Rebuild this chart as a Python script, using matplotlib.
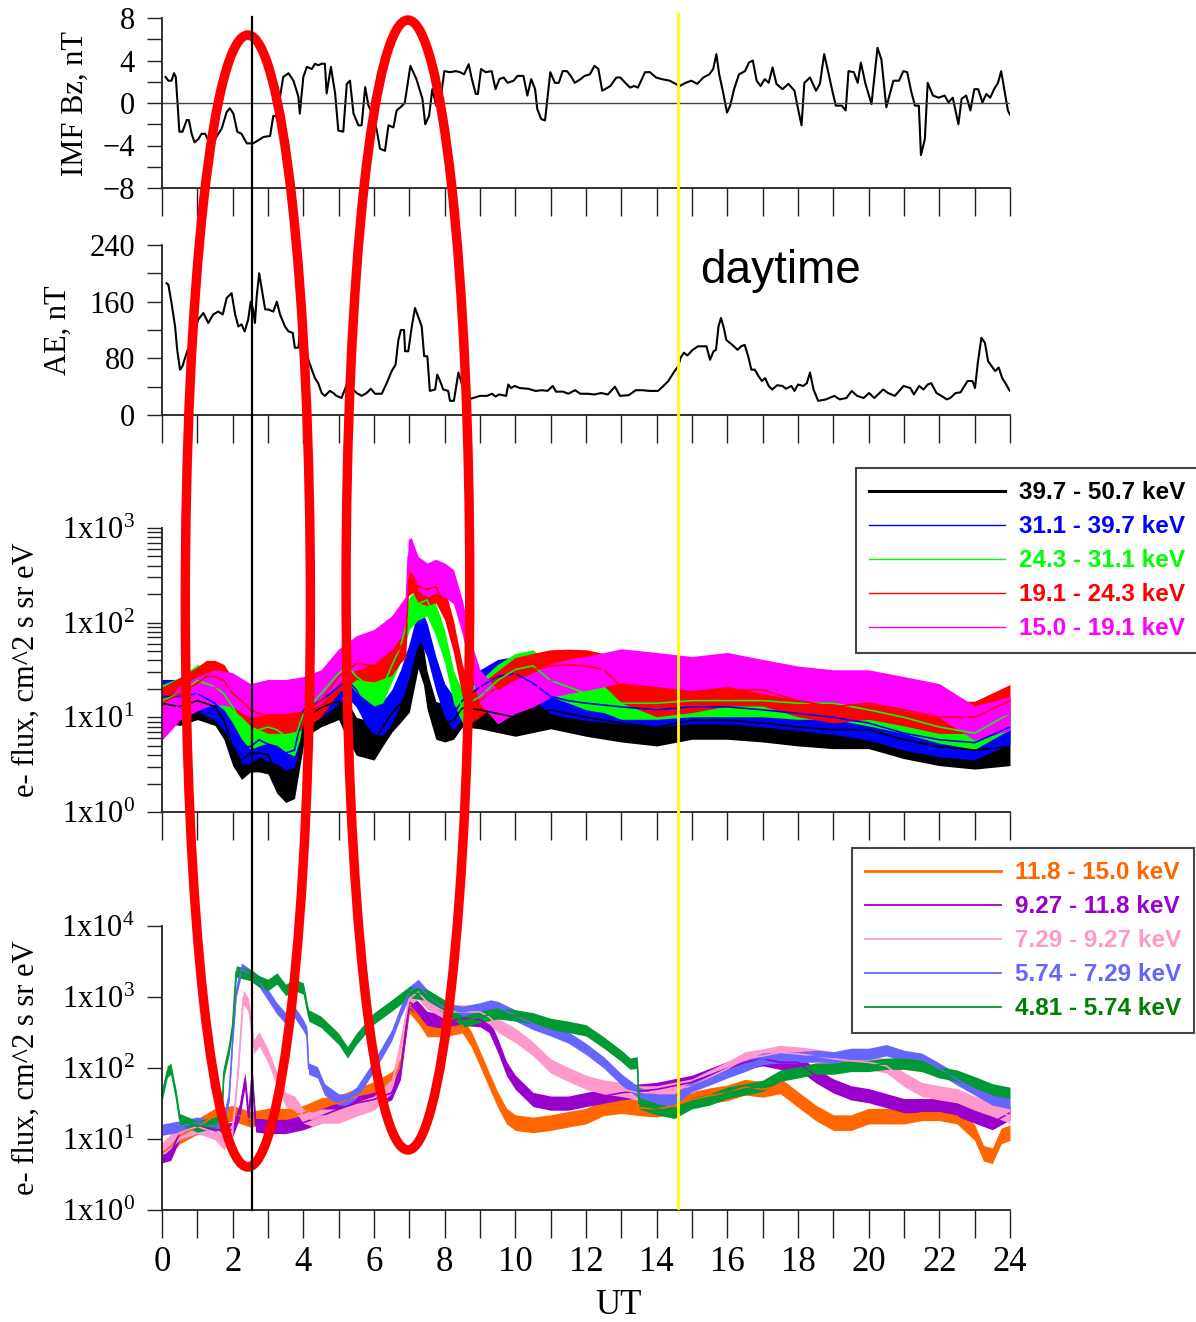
import numpy as np
import matplotlib
matplotlib.use("Agg")
import matplotlib.pyplot as plt
from matplotlib.patches import Ellipse
from matplotlib.lines import Line2D
from matplotlib.ticker import LogLocator, NullFormatter
import matplotlib.transforms as mtransforms

# ---------------- data ----------------
hours = list(range(0, 25))
hour_labels = [str(h) if h % 2 == 0 else "" for h in hours]

bz_t = [0.1, 0.18, 0.27, 0.34, 0.39, 0.44, 0.49, 0.58, 0.7, 0.76, 0.84, 0.92, 1.03, 1.12, 1.22, 1.31, 1.5, 1.69,
        1.83, 1.92, 2.02, 2.13, 2.25, 2.4, 2.58, 2.73, 2.87, 3.06, 3.15, 3.25, 3.34, 3.43, 3.58, 3.72, 3.86, 3.9,
        4.0, 4.1, 4.24, 4.33, 4.42, 4.52, 4.61, 4.66, 4.78, 4.9, 4.99, 5.13, 5.23, 5.32, 5.42, 5.56, 5.65, 5.75,
        5.84, 5.98, 6.08, 6.17, 6.31, 6.41, 6.55, 6.64,
        6.75, 6.87, 7.03, 7.2, 7.37, 7.45, 7.56, 7.65, 7.76, 7.87, 7.99, 8.15, 8.32, 8.43, 8.55, 8.68, 8.77, 8.88,
        8.94, 9.03, 9.16, 9.33, 9.44, 9.55, 9.67, 9.78, 9.95, 10.06, 10.23, 10.34, 10.45, 10.56, 10.62, 10.73,
        10.84, 10.99, 11.12, 11.23, 11.34, 11.46, 11.57, 11.68, 11.85, 11.96, 12.11, 12.24, 12.35, 12.46, 12.69,
        12.86, 12.97, 13.14, 13.25, 13.36, 13.47, 13.67, 13.81, 13.98, 14.14, 14.37, 14.54, 14.65, 14.82, 14.98,
        15.15, 15.32, 15.49, 15.6, 15.69, 15.77, 15.88, 15.99, 16.08, 16.19, 16.33, 16.5, 16.61, 16.72, 16.83,
        16.94, 17.06, 17.17, 17.28, 17.39, 17.56, 17.73, 17.9, 18.01, 18.1, 18.18, 18.34, 18.51, 18.62, 18.74,
        18.85, 18.96, 19.07, 19.24, 19.35, 19.43, 19.58, 19.69, 19.78, 19.91, 20.08, 20.25, 20.36, 20.5, 20.7,
        20.86, 20.98, 21.09, 21.2, 21.31, 21.42, 21.48, 21.59, 21.67, 21.82, 21.98, 22.15, 22.26, 22.38, 22.54,
        22.63, 22.76, 22.88, 22.99, 23.1, 23.22, 23.33, 23.44, 23.55, 23.66, 23.75, 23.86, 23.94, 24.0]
bz_v = [2.45, 2.1, 2.1, 2.8, 2.45, 0, -2.7, -2.7, -1.6, -1.6, -2.9, -3.7, -3.4, -2.9, -2.9, -3.5, -3.4, -2.4,
        -0.85, -0.5, -1.0, -2.7, -2.9, -3.8, -3.8, -3.5, -3.2, -3.1, -1.2, -1.3, 0.6, 2.45, 2.8, 2.1, 0.6, -1.0,
        2.45, 3.4, 3.2, 3.7, 3.55, 3.7, 3.7, 0.9, 3.4, 0.9, -2.6, -2.7, 1.8, 2.1, -1.0, -2.1, -2.1, 1.5,
        -0.2, -1.3, -2.6, -4.3, -4.5, -2.1, -2.3, -0.7,
        -0.4, 0, 3.5, 2.25, 0.4, -2.0, -1.2, 1.3, -0.25, 0, 3.0, 2.9, 3.0, 2.9, 2.7, 3.65, 2.25, 0.85,
        0.85, 3.2, 2.9, 3.0, 1.3, 2.25, 2.4, 1.9, 2.1, 2.55, 2.55, 0.7, 2.25, 1.3, -0.55, -1.5,
        -1.65, 2.9, 1.9, 1.9, 3.0, 3.0, 2.55, 1.9, 2.25, 2.55, 2.7, 3.5, 3.2, 1.15, 1.6,
        2.4, 2.4, 1.8, 1.45, 1.6, 1.45, 2.9, 2.9, 2.4, 2.25, 2.1, 1.8, 1.6, 1.9, 2.1,
        1.8, 2.4, 2.7, 3.2, 4.6, 2.7, 1.0, -0.9, -0.25, 1.3, 2.7, 3.0, 3.8, 4.0, 2.1,
        1.6, 2.25, 1.9, 3.35, 1.8, 1.3, 1.8, 1.15, -0.7, -2.1, 1.9, 2.4, 1.15, 1.8, 4.6,
        3.0, 1.3, -0.25, -0.25, -0.7, 3.0, 2.9, 1.9, 3.8, 1.8, -0.1, 5.2, 4.1, -0.4, 2.1,
        2.1, 3.0, 2.9, 1.15, -0.25, -0.25, -4.9, -3.4, 1.9, 0.7, 0.5, 0.7, 0.05, 0.5, -2.0,
        0.4, 0.7, -0.7, 1.3, 1.3, 0.05, 0.85, 0.5, 1.3, 1.9, 3.0, 0.85, -0.7, -1.1]

ae_t = [0.13, 0.18, 0.27, 0.37, 0.43, 0.51, 0.58, 0.7, 0.84, 0.93, 1.03, 1.17, 1.31, 1.45, 1.59, 1.72, 1.83, 1.97,
        2.07, 2.16, 2.25, 2.34, 2.44, 2.51, 2.58, 2.63, 2.68, 2.75, 2.82, 2.92, 3.01, 3.15, 3.25, 3.34, 3.48, 3.58,
        3.7, 3.76, 3.86, 3.91, 4.0, 4.14, 4.24, 4.33, 4.42, 4.52, 4.61, 4.75, 4.85, 4.94, 5.08, 5.23, 5.37, 5.51,
        5.65, 5.79, 5.91, 6.03, 6.22, 6.36, 6.5, 6.61, 6.69, 6.76, 6.85, 6.88, 6.97, 7.07, 7.16, 7.25, 7.35, 7.42,
        7.51, 7.58, 7.73, 7.79, 7.87, 7.96, 8.1, 8.15, 8.26, 8.39, 8.48, 8.58, 8.67, 8.81, 9.0,
        9.2, 9.34, 9.44, 9.54, 9.74, 9.8, 9.88, 9.98, 10.13, 10.37, 10.57, 10.76, 10.91, 11.06, 11.15, 11.35, 11.5,
        11.69, 11.84, 12.04, 12.23, 12.43, 12.62, 12.82, 12.96, 13.21, 13.41, 13.6, 13.8, 14.04, 14.19, 14.33,
        14.48, 14.61, 14.68, 14.77, 14.87, 15.02, 15.17, 15.41, 15.51, 15.61, 15.68, 15.75, 15.82, 15.9, 15.97,
        16.14, 16.29, 16.39, 16.49, 16.59, 16.68, 16.78, 16.88, 16.98, 17.07, 17.17, 17.27, 17.41, 17.56, 17.66,
        17.81, 17.9, 18.0, 18.15, 18.25, 18.34, 18.44, 18.57, 18.79, 19.03, 19.18, 19.37, 19.52, 19.67, 19.86,
        20.01, 20.16, 20.41, 20.55, 20.74, 20.99, 21.18, 21.28, 21.43, 21.55, 21.67, 21.77, 21.92, 22.06, 22.21,
        22.31, 22.46, 22.6, 22.8, 22.94, 23.01, 23.09, 23.19, 23.29, 23.38, 23.48, 23.58, 23.68, 23.78, 23.87,
        23.97, 24.0]
ae_v = [186, 184, 158, 125, 92, 64, 69, 88, 106, 120, 135, 144, 130, 142, 146, 142, 165, 172,
        142, 125, 128, 118, 135, 160, 149, 130, 167, 200, 179, 149, 149, 146, 160, 142, 125, 118,
        116, 95, 95, 120, 106, 78, 64, 52, 45, 31, 27, 34, 31, 27, 24, 43, 38, 31,
        27, 31, 37, 30, 30, 45, 62, 71, 106, 120, 120, 90, 90, 125, 151, 139, 125, 83,
        83, 34, 36, 57, 48, 36, 34, 20, 20, 60, 45, 36, 22, 24, 27,
        27, 30, 26, 29, 27, 43, 38, 41, 38, 37, 34, 35, 34, 41, 33, 33, 30,
        35, 30, 30, 29, 31, 29, 40, 27, 28, 35, 35, 34, 34, 41, 48,
        60, 69, 81, 88, 84, 92, 97, 97, 78, 90, 92, 125, 137, 123, 106,
        99, 92, 97, 99, 83, 64, 64, 55, 48, 52, 41, 36, 42, 41, 37,
        41, 34, 43, 41, 45, 60, 36, 20, 22, 27, 22, 24, 34, 27, 24,
        31, 24, 36, 31, 27, 41, 38, 29, 41, 36, 43, 45, 31, 27, 22,
        24, 31, 32, 48, 48, 38, 74, 109, 102, 76, 69, 62, 67, 52, 45,
        36, 34]

# ---- high-energy channels (panel 3) ----
hi_labels = ["39.7 - 50.7 keV", "31.1 - 39.7 keV", "24.3 - 31.1 keV", "19.1 - 24.3 keV", "15.0 - 19.1 keV"]
hi_colors = ["#000000", "#0000FF", "#00FF00", "#FF0000", "#FF00FF"]

e40_t = [0, 0.5, 1, 1.5, 1.75, 2, 2.25, 2.5, 2.75, 3, 3.25, 3.5, 3.75, 4, 4.25, 4.5, 5, 5.25, 5.5, 6, 6.25, 6.5,
         6.75, 7, 7.25, 7.4, 7.5, 7.75, 8, 8.25, 8.5, 9, 10, 11, 12, 13, 14, 15, 16, 17, 18, 19, 20, 21, 22, 23, 24]
e40_f = [14, 13, 15, 13, 9.3, 4.9, 3.5, 4.2, 4.2, 4.0, 2.5, 2.0, 2.2, 7.9, 11, 12.6, 15, 9.3, 6.3, 5.6, 7.9, 11,
         14, 18, 52, 35, 19.5, 9.3, 8.7, 9.3, 12.6, 12, 10, 12, 10, 8.7, 7.9, 9.3, 9.3, 8.7, 7.9, 7.4, 7.4, 5.8,
         4.9, 4.5, 4.9]

e31_t = [0, 0.5, 1, 1.5, 1.75, 2, 2.25, 2.5, 2.75, 3, 3.25, 3.5, 3.75, 4, 4.5, 5, 5.25, 5.5, 5.75, 6, 6.25, 6.5,
         6.75, 7, 7.2, 7.3, 7.5, 7.75, 8, 8.25, 8.5, 9, 9.5, 10, 10.5, 11, 11.5, 12, 13, 14, 15, 16, 17, 18, 19,
         20, 21, 22, 23, 24]
e31_f = [16.6, 16.6, 17.8, 14.1, 11, 7.9, 4.9, 4.9, 5.8, 5.2, 4.9, 4.2, 4.5, 12, 15, 21, 24.5, 19.5, 12.9, 10,
         9.8, 12.9, 21, 40, 78, 98, 66, 29, 15, 11, 15, 21, 27, 29, 23, 16.6, 15, 14.1, 12.9, 12, 12.9, 12.9, 12,
         11, 10, 8.7, 6.8, 5.8, 5.4, 7.9]

e24_t = [0, 0.5, 1, 1.5, 1.75, 2, 2.25, 2.5, 2.75, 3, 3.25, 3.5, 3.75, 4, 4.5, 5, 5.25, 5.5, 5.75, 6, 6.25, 6.5,
         6.75, 7, 7.25, 7.5, 7.75, 8, 8.25, 8.5, 9, 9.5, 10, 10.5, 11, 11.5, 12, 12.5, 13, 14, 15, 16, 17, 18, 19,
         20, 21, 22, 23, 24]
e24_f = [15, 17.8, 24.5, 21, 17.8, 12.9, 8.7, 6.8, 7.4, 7.9, 7.4, 6.3, 5.8, 11, 17.8, 29, 35, 27, 23, 19.5, 21,
         35, 56, 126, 158, 174, 107, 56, 21, 12.9, 16.6, 24.5, 32, 35, 24.5, 21, 17.8, 16.6, 14.1, 14.1, 15, 15,
         15, 14.1, 14.1, 12, 10, 7.9, 6.8, 11]

e19_t = [0, 0.5, 1, 1.25, 1.5, 1.75, 2, 2.25, 2.5, 2.75, 3, 3.5, 4, 4.5, 5, 5.5, 6, 6.5, 6.75, 6.9, 6.97, 7.1,
         7.25, 7.5, 7.75, 8, 8.25, 8.5, 8.75, 9, 9.5, 10, 10.5, 11, 11.5, 12, 12.5, 13, 13.5, 14, 15, 16, 17, 18,
         19, 20, 21, 22, 23, 24]
e19_f = [14.1, 17.8, 23, 27, 27, 24.5, 17.8, 15, 12, 11, 10, 10, 11, 15, 27, 37, 35, 41, 56, 63, 282, 309,
         240, 224, 240, 158, 71, 24.5, 12.9, 15, 21, 29, 32, 35, 35.5, 35, 32, 21, 17.8, 15, 16.6, 19.5, 19.5,
         15, 12.9, 14.1, 12, 10, 10, 15]

e15_t = [0, 0.25, 0.5, 1, 1.5, 2, 2.5, 3, 3.5, 4, 4.5, 5, 5.5, 6, 6.5, 6.9, 6.97, 7.05, 7.25, 7.5, 7.75, 8, 8.25,
         8.5, 8.75, 9, 9.5, 10, 10.5, 11, 11.5, 12, 13, 14, 15, 16, 17, 18, 19, 20, 21, 22, 23, 24]
e15_f = [8.7, 11, 14.1, 17.8, 21, 19.5, 15, 16.6, 16.6, 17.8, 21, 35, 48, 56, 78, 126, 500, 525, 331, 282, 309,
         282, 240, 115, 41, 21, 12.9, 16.6, 19.5, 24.5, 27, 29, 35, 32, 29, 32, 27, 23, 21, 21, 17.8, 15, 8.7, 11]

# ---- low-energy channels (panel 4) ----
lo_labels = ["11.8 - 15.0 keV", "9.27 - 11.8 keV", "7.29 - 9.27 keV", "5.74 - 7.29 keV", "4.81 - 5.74 keV"]
lo_colors = ["#FF6600", "#9900CC", "#FF99CC", "#6666FF", "#009933"]
lo_text_colors = ["#FF6600", "#9900CC", "#FF99CC", "#6666FF", "#008000"]

e12_t = [0, 0.25, 0.5, 1, 1.5, 2, 2.5, 3, 3.5, 4, 4.5, 5, 5.5, 6, 6.5, 6.75, 7, 7.25, 7.5, 8, 8.5, 8.75, 9,
         9.25, 9.5, 9.75, 10, 10.5, 11, 11.5, 12, 12.5, 13, 13.5, 14, 14.5, 15, 15.5, 16, 16.5, 17, 17.5, 18,
         18.5, 19, 19.5, 20, 20.5, 21, 21.5, 22, 22.5, 23, 23.25, 23.5, 23.75, 24]
e12_f = [6.3, 7.9, 11, 15, 21, 23, 19, 21, 21, 23, 29.5, 32, 40, 50, 69, 107, 760, 550, 355, 355, 400, 257, 135,
         69, 36, 21, 17, 15.8, 17, 19, 21, 27.5, 29.5, 27.5, 26.3, 29.5, 36, 40.7, 44.7, 53.7, 50, 56, 36,
         23.4, 17, 17, 21, 21, 21, 23.4, 23.4, 21, 12.3, 6.3, 5.8, 11, 12.3]

e9_t = [0, 0.25, 0.5, 1, 1.5, 2, 2.2, 2.35, 2.45, 2.55, 2.65, 3, 3.5, 4, 4.5, 5, 5.5, 6, 6.5, 6.75, 7, 7.25,
        7.5, 8, 8.5, 9, 9.25, 9.5, 9.75, 10, 10.5, 11, 11.5, 12, 13, 14, 15, 16, 16.5, 17, 17.5, 18, 18.5, 19,
        19.5, 20, 20.5, 21, 21.5, 22, 22.5, 23, 23.5, 24]
e9_f = [5.8, 6.3, 12.3, 15, 13.5, 13.5, 25, 69, 20, 79, 15.8, 15, 15, 17, 21, 26.3, 32, 36, 44.7, 87, 850, 690,
        500, 447, 500, 479, 400, 209, 98, 63, 36, 32, 32, 36, 44.7, 50, 63, 98, 120, 135, 120, 120, 78, 56,
        44.7, 40.7, 34.7, 29.5, 29.5, 29.5, 26.3, 21, 17, 23.4]

e7_t = [0, 0.5, 1, 1.5, 1.75, 2, 2.15, 2.3, 2.45, 2.6, 2.75, 3, 3.25, 3.5, 3.75, 4, 4.25, 4.5, 5, 5.5, 6, 6.5,
        6.75, 7, 7.25, 7.5, 8, 8.5, 9, 9.25, 9.5, 10, 10.5, 11, 11.5, 12, 12.5, 13, 13.5, 14, 15, 16, 16.5, 17,
        17.5, 18, 18.5, 19, 19.5, 20, 20.5, 21, 21.5, 22, 22.5, 23, 23.5, 24]
e7_f = [7.1, 12.3, 15, 12.3, 8.9, 13.5, 87, 1000, 760, 200, 257, 148, 69, 36, 32, 21, 19, 21, 21, 26.3, 32, 56,
        209, 955, 1175, 851, 617, 617, 617, 525, 400, 288, 186, 107, 81, 63, 54, 50, 44.7, 44.7, 56, 98, 135,
        148, 166, 158, 148, 135, 126, 120, 107, 69, 50, 44.7, 40.7, 32, 26.3, 21]

e6_t = [0, 0.5, 1, 1.5, 1.75, 1.9, 2, 2.1, 2.25, 2.5, 2.75, 3, 3.25, 3.5, 3.75, 4, 4.1, 4.15, 4.4, 4.6, 5, 5.25,
        5.5, 5.75, 6, 6.5, 6.75, 7, 7.25, 7.5, 8, 8.5, 9, 9.3, 9.5, 10, 10.5, 11, 11.5, 12, 12.5, 13, 13.5, 14,
        14.5, 15, 15.5, 16, 16.5, 17, 17.5, 18, 18.5, 19, 19.5, 20, 20.5, 21, 21.5, 22, 22.5, 23, 23.5, 24]
e6_f = [13.5, 15, 17, 15, 19, 40, 257, 1175, 2512, 2042, 1660, 1072, 692, 500, 617, 400, 316, 98, 87, 50, 36,
        36, 44.7, 69, 107, 288, 617, 1175, 1480, 1072, 692, 617, 692, 759, 724, 550, 417, 339, 269, 186, 120,
        69, 44.7, 36, 36, 56, 69, 87, 107, 135, 141, 141, 148, 141, 158, 158, 178, 148, 135, 98, 69, 50, 36, 32]

e5_t = [0, 0.15, 0.25, 0.4, 0.5, 1, 1.5, 1.7, 1.75, 1.9, 2, 2.1, 2.5, 2.75, 3, 3.25, 3.5, 3.75, 4, 4.15, 4.5,
        5, 5.25, 5.5, 6, 6.5, 7, 7.5, 8, 8.5, 9, 9.5, 10, 10.5, 11, 11.5, 12, 12.5, 13, 13.25, 13.45, 13.5, 14,
        14.5, 15, 15.5, 16, 16.5, 17, 17.5, 18, 18.5, 19, 19.5, 20, 20.5, 21, 21.5, 22, 22.5, 23, 23.5, 24]
e5_f = [40.7, 89, 98, 40.7, 19, 15, 17, 25, 87, 186, 400, 2290, 2042, 1660, 1480, 1820, 1259, 1480, 1318, 550,
        447, 257, 166, 257, 500, 759, 1175, 1072, 759, 447, 525, 589, 550, 500, 417, 380, 339, 229, 148, 115,
        120, 32, 26.3, 23.4, 32, 36, 44.7, 50, 56, 78, 87, 98, 98, 107, 107, 115, 115, 107, 87, 78, 63, 50, 44.7]

hi_series = [(e40_t, e40_f), (e31_t, e31_f), (e24_t, e24_f), (e19_t, e19_f), (e15_t, e15_f)]
lo_series = [(e12_t, e12_f), (e9_t, e9_f), (e7_t, e7_f), (e6_t, e6_f), (e5_t, e5_f)]
# scatter half-width (decades) of each noisy channel
hi_spread = [0.2, 0.18, 0.17, 0.17, 0.18]
lo_spread = [0.11, 0.1, 0.1, 0.08, 0.08]

flux3_ticks = [1, 10, 100, 1000]
flux3_labels = ["1x10$^{0}$", "1x10$^{1}$", "1x10$^{2}$", "1x10$^{3}$"]
flux4_ticks = [1, 10, 100, 1000, 10000]
flux4_labels = ["1x10$^{0}$", "1x10$^{1}$", "1x10$^{2}$", "1x10$^{3}$", "1x10$^{4}$"]

black_line_ut = 2.55
yellow_line_ut = 14.6
ellipse_ut = [2.43, 6.96]

# ---------------- figure ----------------
plt.rcParams["font.family"] = ["Liberation Serif", "DejaVu Serif"]
plt.rcParams["mathtext.fontset"] = "custom"
plt.rcParams["mathtext.rm"] = "Liberation Serif"
plt.rcParams["mathtext.default"] = "regular"

W, H = 1196, 1322
fig = plt.figure(figsize=(W / 100, H / 100), dpi=100)
fig.patch.set_facecolor("white")


def add_ax(top, bottom):
    return fig.add_axes([162 / W, 1 - bottom / H, 848 / W, (bottom - top) / H])


ax1 = add_ax(18, 188)
ax2 = add_ax(245, 415)
ax3 = add_ax(528, 812)
ax4 = add_ax(926, 1210)

for ax in (ax1, ax2, ax3, ax4):
    for s in ("top", "right"):
        ax.spines[s].set_visible(False)
    for s in ("left", "bottom"):
        ax.spines[s].set_linewidth(1.3)
        ax.spines[s].set_color("#222222")
    ax.set_xlim(0, 24)
    ax.set_xticks(hours)
    ax.set_xticklabels(hour_labels if ax is ax4 else [""] * len(hours))
    ax.tick_params(axis="x", which="major", direction="out", length=20, width=1.0,
                   color="#222222", labelsize=25, pad=6)
    ax.tick_params(axis="y", which="both", direction="out", length=10.5, width=1.0,
                   color="#222222", labelsize=22, pad=9)
    ax.set_facecolor("none")

# panel 1: IMF Bz
ax1.plot(bz_t, bz_v, color="black", lw=1.5)
ax1.axhline(0, color="#444444", lw=1.0)
ax1.set_ylim(-8, 8)
ax1.set_yticks([-8, -4, 0, 4, 8])
ax1.set_yticks([-6, -2, 2, 6], minor=True)
ax1.set_ylabel("IMF Bz, nT", fontsize=22, va="center")
ax1.yaxis.set_label_coords((75 - 162) / 848, 0.5)

# panel 2: AE
ax2.plot(ae_t, ae_v, color="black", lw=1.5)
ax2.set_ylim(0, 240)
ax2.set_yticks([0, 80, 160, 240])
ax2.set_yticks([40, 120, 200], minor=True)
ax2.set_ylabel("AE, nT", fontsize=22, va="center")
ax2.yaxis.set_label_coords((58 - 162) / 848, 0.5)


def draw_flux(ax, series, colors, spreads):
    for (t, f), c, s in zip(series, colors, spreads):
        t = np.asarray(t, float)
        f = np.asarray(f, float)
        ax.fill_between(t, f / 10 ** s, f * 10 ** s, color=c, lw=0)
        ax.plot(t, f, color=c, lw=1.2)


# panel 3
draw_flux(ax3, hi_series, hi_colors, hi_spread)
ax3.set_yscale("log")
ax3.set_ylim(1, 1000)
ax3.set_yticks(flux3_ticks)
ax3.set_yticklabels(flux3_labels)
ax3.yaxis.set_minor_locator(LogLocator(base=10, subs=range(2, 10)))
ax3.yaxis.set_minor_formatter(NullFormatter())
ax3.set_ylabel("e- flux, cm^2 s sr eV", fontsize=22, va="center")
ax3.yaxis.set_label_coords((26 - 162) / 848, 0.5)

# panel 4
draw_flux(ax4, lo_series, lo_colors, lo_spread)
ax4.set_yscale("log")
ax4.set_ylim(1, 10000)
ax4.set_yticks(flux4_ticks)
ax4.set_yticklabels(flux4_labels)
ax4.yaxis.set_minor_locator(LogLocator(base=10, subs=range(2, 10)))
ax4.yaxis.set_minor_formatter(NullFormatter())
ax4.set_ylabel("e- flux, cm^2 s sr eV", fontsize=22, va="center")
ax4.yaxis.set_label_coords((26 - 162) / 848, 0.5)
ax4.set_xlabel("UT", fontsize=25, va="center")
ax4.xaxis.set_label_coords((618 - 162) / 848, (1210 - 1306) / 284)

# legends
leg_font = dict(family="Liberation Sans", weight="bold", size=17.5)
hi_handles = [Line2D([], [], color=c, lw=(2.2 if i == 0 else 1.0)) for i, c in enumerate(hi_colors)]
leg3 = ax3.legend(hi_handles, hi_labels, loc="upper left", bbox_to_anchor=(856 / W, 1 - 468 / H),
                  bbox_transform=fig.transFigure, frameon=True, fancybox=False, framealpha=1,
                  edgecolor="#444444", prop=leg_font, labelcolor=hi_colors, handlelength=5.6,
                  handletextpad=0.55, labelspacing=0.45, borderpad=0.55, borderaxespad=0)
leg3.get_frame().set_linewidth(1.5)

lo_handles = [Line2D([], [], color=c, lw=(2.0 if i == 0 else 1.3)) for i, c in enumerate(lo_colors)]
leg4 = ax4.legend(lo_handles, lo_labels, loc="upper left", bbox_to_anchor=(852 / W, 1 - 848 / H),
                  bbox_transform=fig.transFigure, frameon=True, fancybox=False, framealpha=1,
                  edgecolor="#444444", prop=leg_font, labelcolor=lo_text_colors, handlelength=5.6,
                  handletextpad=0.55, labelspacing=0.45, borderpad=0.55, borderaxespad=0)
leg4.get_frame().set_linewidth(1.5)

# annotations: ellipses and vertical markers (x in UT, y in figure fraction)
trans = mtransforms.blended_transform_factory(ax4.transData, fig.transFigure)
fig.add_artist(Ellipse((ellipse_ut[0], 1 - 601 / H), width=3.54, height=1132 / H, transform=trans,
                       fill=False, ec="#FF0000", lw=6.8, zorder=20))
fig.add_artist(Ellipse((ellipse_ut[1], 1 - 585 / H), width=3.5, height=1130 / H, transform=trans,
                       fill=False, ec="#FF0000", lw=6.8, zorder=20))
fig.add_artist(Line2D([black_line_ut, black_line_ut], [1 - 17 / H, 1 - 1210 / H], transform=trans,
                      color="black", lw=1.6, zorder=21))
fig.add_artist(Line2D([yellow_line_ut, yellow_line_ut], [1 - 14 / H, 1 - 1208 / H], transform=trans,
                      color="#FFFF00", lw=2.0, zorder=21))

fig.text(700 / W, 1 - 283 / H, "daytime", fontsize=33, family="Liberation Sans", va="baseline")

fig.savefig("out.png", dpi=100)
